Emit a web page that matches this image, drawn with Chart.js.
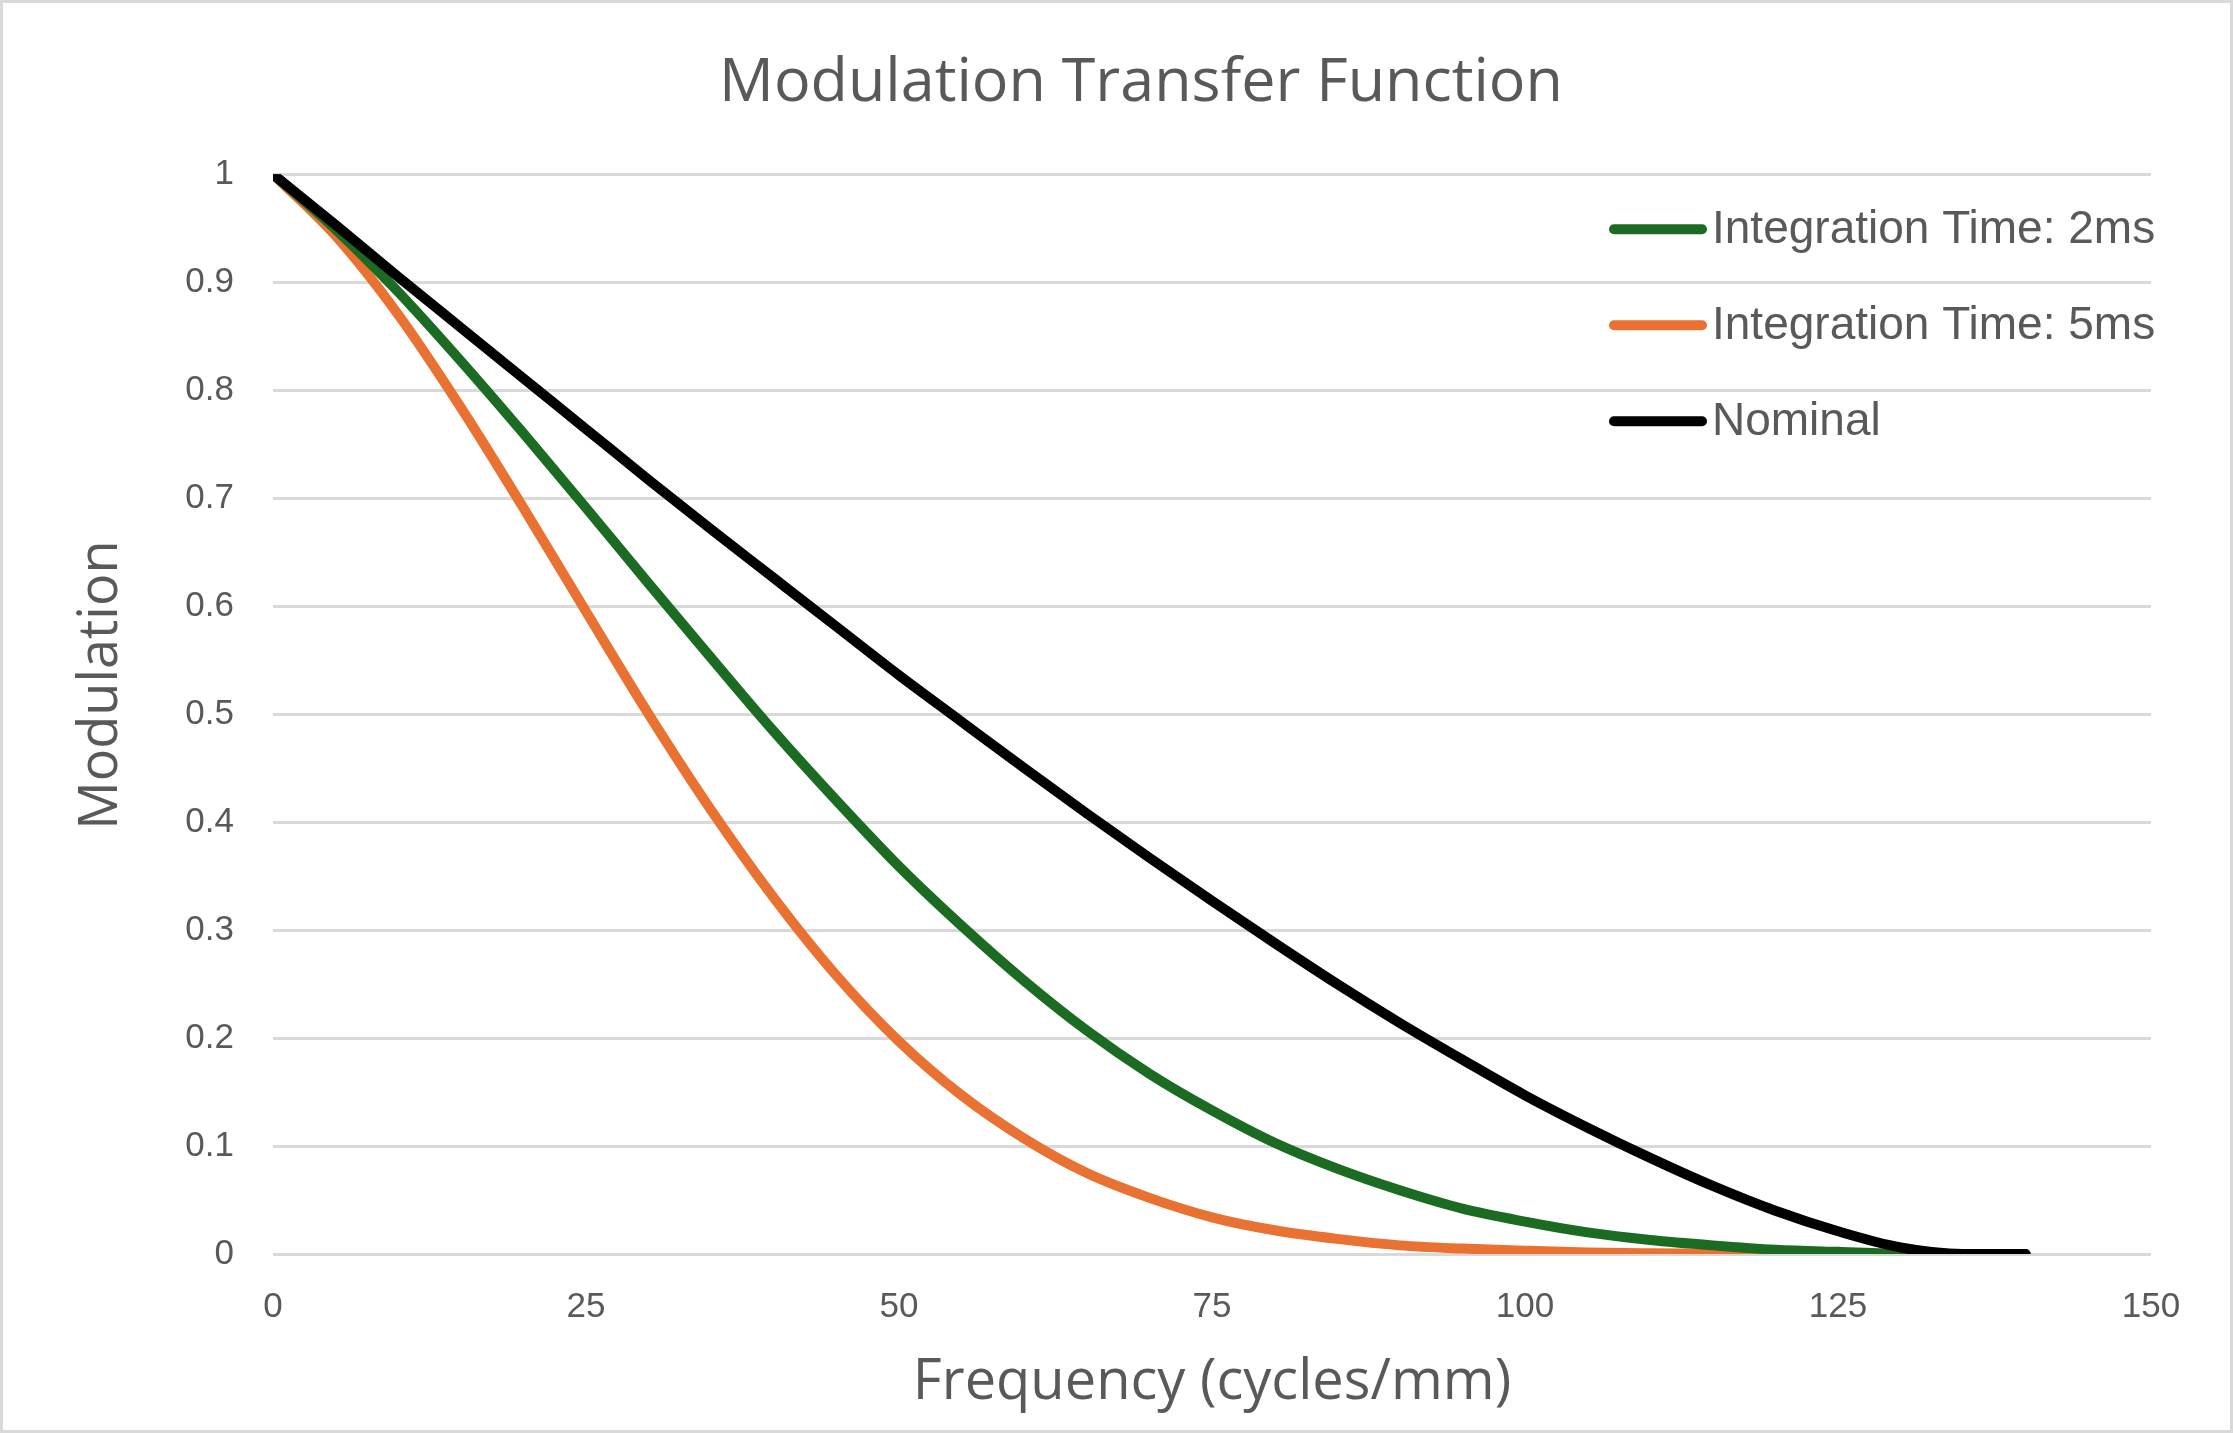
<!DOCTYPE html>
<html>
<head>
<meta charset="utf-8">
<title>Modulation Transfer Function</title>
<script src="https://cdn.jsdelivr.net/npm/chart.js@4"></script>
<style>
  html, body { margin: 0; padding: 0; background: #ffffff; }
  #wrap { width: 2233px; height: 1433px; position: relative; }
</style>
</head>
<body>
<div id="wrap"><canvas id="mtf-chart" width="2233" height="1433"></canvas></div>
<script>
// frequency axis (cycles/mm)
const freq = [0, 5, 10, 15, 20, 25, 30, 35, 40, 45, 50, 55, 60, 65, 70, 75, 80, 85, 90, 95, 100, 105, 110, 115, 120, 125, 130, 135, 140];

// modulation
const mtf2ms = [1, 0.949, 0.891, 0.827, 0.760, 0.691, 0.621, 0.552, 0.484, 0.420, 0.359, 0.304, 0.253, 0.207, 0.167, 0.133, 0.103, 0.079, 0.059, 0.042, 0.030, 0.020, 0.013, 0.008, 0.004, 0.002, 0.0004, 0];
const mtf5ms = [1, 0.943, 0.870, 0.784, 0.691, 0.595, 0.500, 0.411, 0.330, 0.258, 0.197, 0.147, 0.107, 0.075, 0.052, 0.034, 0.022, 0.014, 0.008, 0.005, 0.003, 0.0014, 0.0007, 0.0003, 0.0001, 0, 0, 0];
const mtfNominal = [1, 0.953, 0.905, 0.858, 0.811, 0.764, 0.717, 0.671, 0.626, 0.581, 0.536, 0.493, 0.450, 0.408, 0.367, 0.327, 0.288, 0.250, 0.214, 0.180, 0.147, 0.117, 0.089, 0.063, 0.040, 0.021, 0.006, 0, 0];

const seriesLabels = ["Integration Time: 2ms", "Integration Time: 5ms", "Nominal"];
const seriesColors = ["#1b6b23", "#e97132", "#000000"];

const yTicks = [0, 0.1, 0.2, 0.3, 0.4, 0.5, 0.6, 0.7, 0.8, 0.9, 1];
const yTitle = 'Modulation';

function toPoints(values) {
  return values.map((v, i) => ({ x: freq[i], y: v }));
}

Chart.defaults.font.family = "'Liberation Sans', Arial, sans-serif";
Chart.defaults.color = "#595959";

// white background and thin grey frame round the whole chart
const framePlugin = {
  id: 'frame',
  beforeDraw(chart) {
    const ctx = chart.ctx;
    ctx.save();
    ctx.fillStyle = '#ffffff';
    ctx.fillRect(0, 0, chart.width, chart.height);
    ctx.strokeStyle = '#d9d9d9';
    ctx.lineWidth = 3;
    ctx.strokeRect(1.5, 1.5, chart.width - 3, chart.height - 3);
    ctx.restore();
  },
  afterLayout(chart) {
    // excel centres the title a bit right of the canvas middle
    if (chart.titleBlock) chart.titleBlock.left = 131;
  },
  afterDraw(chart) {
    // y axis title, centred a little above the plot middle like the original
    const ctx = chart.ctx;
    const area = chart.chartArea;
    ctx.save();
    ctx.translate(102, (area.top + area.bottom) / 2 - 29);
    ctx.rotate(-Math.PI / 2);
    ctx.fillStyle = '#595959';
    ctx.font = "54px 'Open Sans', sans-serif";
    ctx.textAlign = 'center';
    ctx.textBaseline = 'middle';
    ctx.fillText(yTitle, 0, 0);
    ctx.restore();
  }
};

// legend sits inside the plot area, top right
const insideLegend = {
  id: 'insideLegend',
  afterDatasetsDraw(chart) {
    const ctx = chart.ctx;
    const area = chart.chartArea;
    const x0 = area.right - 537;
    ctx.save();
    chart.data.datasets.forEach((ds, i) => {
      const y = area.top + 55 + i * 96;
      ctx.strokeStyle = ds.borderColor;
      ctx.lineWidth = 10;
      ctx.lineCap = 'round';
      ctx.beginPath();
      ctx.moveTo(x0, y);
      ctx.lineTo(x0 + 88, y);
      ctx.stroke();
      ctx.fillStyle = '#595959';
      ctx.font = "46px 'Liberation Sans', Arial, sans-serif";
      ctx.textBaseline = 'middle';
      ctx.textAlign = 'left';
      ctx.fillText(ds.label, x0 + 98, y + 1);
    });
    ctx.restore();
  }
};

const datasets = [
  { label: seriesLabels[0], data: toPoints(mtf2ms), borderColor: seriesColors[0], order: 1 },
  { label: seriesLabels[1], data: toPoints(mtf5ms), borderColor: seriesColors[1], order: 2 },
  { label: seriesLabels[2], data: toPoints(mtfNominal), borderColor: seriesColors[2], order: 0 }
].map(ds => Object.assign(ds, {
  borderWidth: 10,
  pointRadius: 0,
  fill: false,
  cubicInterpolationMode: 'monotone',
  borderCapStyle: 'round',
  borderJoinStyle: 'round'
}));

const chart = new Chart(document.getElementById('mtf-chart'), {
  type: 'line',
  data: { datasets: datasets },
  plugins: [framePlugin, insideLegend],
  options: {
    responsive: false,
    animation: false,
    layout: { padding: { left: 0, right: 82, top: 0, bottom: 0 } },
    plugins: {
      legend: { display: false },
      tooltip: { enabled: false },
      title: {
        display: true,
        text: 'Modulation Transfer Function',
        color: '#595959',
        font: { family: "'Open Sans', sans-serif", size: 61, weight: 'normal', lineHeight: 1.2 },
        padding: { top: 47, bottom: 54 }
      }
    },
    scales: {
      x: {
        type: 'linear',
        min: 0,
        max: 150,
        grid: { display: false, drawTicks: false },
        border: { display: false },
        ticks: { stepSize: 25, padding: 32, font: { size: 35 }, color: '#595959' },
        title: {
          display: true,
          text: 'Frequency (cycles/mm)',
          color: '#595959',
          font: { family: "'Open Sans', sans-serif", size: 56, lineHeight: 1.2 },
          padding: { top: 0, bottom: 16 }
        },
        afterFit(scale) { scale.height = 179; }
      },
      y: {
        type: 'linear',
        min: 0,
        max: 1,
        grid: { color: '#d9d9d9', lineWidth: 3, drawTicks: false },
        border: { display: false },
        afterBuildTicks(scale) { scale.ticks = yTicks.map(v => ({ value: v })); },
        ticks: {
          padding: 39,
          font: { size: 35 },
          color: '#595959',
          callback: v => String(Math.round(v * 10) / 10)
        },
        title: { display: false },
        afterFit(scale) { scale.width = 273; }
      }
    }
  }
});
</script>
</body>
</html>
